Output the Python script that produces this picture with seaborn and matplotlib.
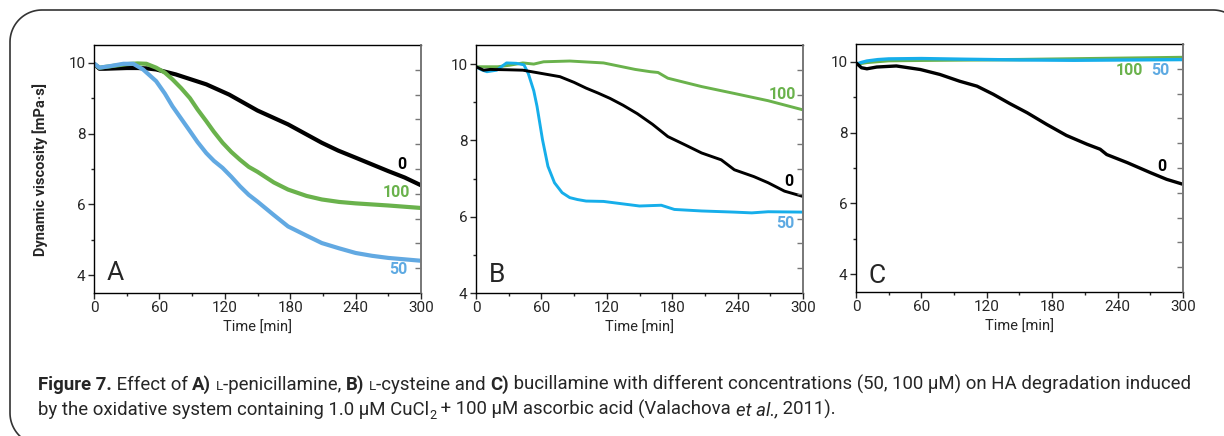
import numpy as np
import pandas as pd
import matplotlib
matplotlib.use('Agg')
import matplotlib.pyplot as plt
import matplotlib.font_manager as fm
from matplotlib.lines import Line2D
from matplotlib.ticker import MultipleLocator
import seaborn as sns

# ---- data (time in min, viscosity in mPa.s) ----
# A) L-penicillamine
a0_t = [0, 5, 10, 20, 30, 40, 48, 57, 75, 90, 103, 124, 150, 178, 209, 224, 240, 255, 270, 285, 300]
a0_v = [9.97, 9.83, 9.83, 9.84, 9.85, 9.85, 9.84, 9.81, 9.67, 9.52, 9.39, 9.10, 8.65, 8.26, 7.74, 7.52, 7.32, 7.13, 6.94, 6.76, 6.54]
a100_t = [0, 5, 10, 20, 30, 40, 48, 57, 65, 72, 80, 88, 95, 103, 110, 118, 126, 134, 142, 150, 165, 178, 195, 209, 225, 240, 270, 300]
a100_v = [9.97, 9.86, 9.88, 9.92, 9.96, 9.98, 9.97, 9.86, 9.72, 9.53, 9.28, 9.00, 8.68, 8.35, 8.05, 7.74, 7.48, 7.26, 7.06, 6.92, 6.62, 6.42, 6.24, 6.14, 6.07, 6.03, 5.97, 5.90]
a50_t = [0, 5, 14, 27, 36, 45, 57, 65, 72, 80, 88, 95, 103, 110, 118, 126, 134, 142, 150, 165, 178, 195, 209, 225, 240, 255, 270, 285, 300]
a50_v = [9.98, 9.86, 9.90, 9.97, 9.97, 9.81, 9.48, 9.13, 8.77, 8.42, 8.07, 7.76, 7.45, 7.23, 7.03, 6.78, 6.51, 6.27, 6.08, 5.70, 5.38, 5.12, 4.91, 4.76, 4.63, 4.55, 4.49, 4.45, 4.41]

# B) L-cysteine
b0_t = [0, 7, 13, 30, 43, 59, 77, 90, 101, 112, 123, 135, 148, 162, 176, 192, 207, 225, 237, 255, 268, 283, 300]
b0_v = [9.93, 9.84, 9.86, 9.85, 9.84, 9.76, 9.67, 9.52, 9.37, 9.24, 9.10, 8.92, 8.70, 8.42, 8.10, 7.88, 7.67, 7.49, 7.23, 7.05, 6.89, 6.67, 6.53]
b100_t = [0, 10, 20, 31, 43, 53, 62, 86, 117, 146, 160, 167, 176, 207, 237, 268, 300]
b100_v = [9.93, 9.93, 9.93, 9.97, 10.03, 10.00, 10.06, 10.08, 10.03, 9.86, 9.80, 9.78, 9.63, 9.41, 9.23, 9.04, 8.80]
b50_t = [0, 5, 10, 19, 28, 37, 44, 48, 53, 56, 61, 66, 72, 79, 86, 93, 101, 117, 150, 170, 182, 207, 237, 253, 268, 300]
b50_v = [9.93, 9.85, 9.80, 9.84, 10.03, 10.02, 9.98, 9.75, 9.30, 8.89, 8.02, 7.32, 6.89, 6.63, 6.50, 6.45, 6.41, 6.40, 6.28, 6.30, 6.19, 6.15, 6.12, 6.10, 6.13, 6.12]

# C) bucillamine
c0_t = [0, 5, 10, 19, 37, 59, 77, 95, 111, 126, 141, 157, 175, 193, 212, 224, 230, 249, 270, 285, 300]
c0_v = [9.97, 9.83, 9.80, 9.85, 9.88, 9.78, 9.64, 9.45, 9.31, 9.08, 8.82, 8.56, 8.23, 7.92, 7.67, 7.53, 7.38, 7.15, 6.87, 6.68, 6.54]
c100_t = [0, 10, 30, 60, 100, 150, 200, 250, 300]
c100_v = [9.93, 9.98, 10.03, 10.04, 10.05, 10.06, 10.08, 10.10, 10.12]
c50_t = [0, 5, 10, 20, 30, 60, 100, 150, 200, 250, 300]
c50_v = [9.93, 9.98, 10.02, 10.06, 10.08, 10.09, 10.07, 10.05, 10.04, 10.05, 10.06]

panel_letters = ['A', 'B', 'C']
series_labels = ['0', '100', '50']
x_ticks = [0, 60, 120, 180, 240, 300]

BLACK = '#000000'
GREEN = '#6ab24c'
BLUE_A = '#62a9e2'
BLUE_BC = '#16aeea'
LABEL_BLUE = '#5eaae2'

sns.set_style('ticks')


def pick_font(names):
    for n in names:
        try:
            fm.findfont(fm.FontProperties(family=n), fallback_to_default=False)
            return n
        except Exception:
            pass
    return 'DejaVu Sans'


main_font = pick_font(['Roboto', 'Noto Sans'])
cap_font = pick_font(['Liberation Sans Narrow', 'Roboto', 'Noto Sans'])
plt.rcParams['font.family'] = [main_font, 'DejaVu Sans']

fig = plt.figure(figsize=(12.24, 4.36), dpi=100)
W, H = 1224, 436

# axes boxes in pixels: left, top, right, bottom
boxes = [(94, 45, 421, 293), (476, 45, 803, 293), (856, 44, 1183, 292)]
ylims = [(3.5, 10.5), (4.0, 10.5), (3.5, 10.5)]

panels = [
    [(a0_t, a0_v, BLACK), (a100_t, a100_v, GREEN), (a50_t, a50_v, BLUE_A)],
    [(b0_t, b0_v, BLACK), (b100_t, b100_v, GREEN), (b50_t, b50_v, BLUE_BC)],
    [(c0_t, c0_v, BLACK), (c100_t, c100_v, GREEN), (c50_t, c50_v, BLUE_BC)],
]
lws = [3.0, 2.1, 2.4]
# label positions (time, value) for 0 / 100 / 50
lab_pos = [
    [(282, 7.13), (277, 6.33), (279, 4.16)],
    [(287, 6.92), (281, 9.21), (284, 5.83)],
    [(281, 7.04), (251, 9.76), (279.5, 9.76)],
]
lab_col = [BLACK, GREEN, LABEL_BLUE]
letter_pos = [(0.064, 0.08), (0.063, 0.073), (0.065, 0.065)]

for i, (l, t, r, b) in enumerate(boxes):
    ax = fig.add_axes([l / W, 1 - b / H, (r - l) / W, (b - t) / H])
    order = [1, 2, 0] if i > 0 else [0, 1, 2]
    for k in order:
        tt, vv, col = panels[i][k]
        df = pd.DataFrame({'t': tt, 'v': vv})
        sns.lineplot(data=df, x='t', y='v', ax=ax, color=col, lw=lws[i],
                     solid_capstyle='butt')
    ax.set_xlim(0, 300)
    ax.set_ylim(*ylims[i])
    ax.set_xticks(x_ticks)
    ax.xaxis.set_minor_locator(MultipleLocator(30))
    ax.set_yticks([4, 6, 8, 10])
    ax.yaxis.set_minor_locator(MultipleLocator(1))
    ax.tick_params(which='major', length=4, width=1, labelsize=11, pad=2,
                   direction='out')
    ax.tick_params(which='minor', length=2.5, width=1, direction='out')
    ax.set_xlabel('Time [min]', fontsize=10.5, labelpad=4)
    if i == 0:
        ax.set_ylabel('Dynamic viscosity [mPa·s]', fontsize=10.5,
                      fontweight='bold')
        ax.yaxis.set_label_coords(-0.14, 0.5)
    else:
        ax.set_ylabel('')
    for s in ['left', 'bottom', 'top']:
        ax.spines[s].set_linewidth(1.0)
        ax.spines[s].set_color('black')
    ax.spines['right'].set_color('#777777')
    ax.spines['right'].set_linewidth(1.2)

    # right-hand tick strip
    ax2 = ax.twinx()
    ax2.set_ylim(0, 1)
    ax2.set_yticks(np.arange(1, 10) / 10)
    ax2.set_yticklabels([])
    ax2.tick_params(axis='y', direction='in', length=4, width=1,
                    color='#777777')
    for s in ['left', 'bottom', 'top']:
        ax2.spines[s].set_visible(False)
    ax2.spines['right'].set_color('#777777')
    ax2.spines['right'].set_linewidth(1.2)

    for k in range(3):
        x, y = lab_pos[i][k]
        ax.text(x, y, series_labels[k], color=lab_col[k], fontsize=11.5,
                fontweight='bold', ha='center', va='center')
    ax.text(*letter_pos[i], panel_letters[i], transform=ax.transAxes,
            fontsize=19, ha='center', va='center')

# rounded outer frame in pixels; right and bottom sides fall off the page
R = 32
left, top, right, bottom = 10, 10, 1245, 445
ang = np.linspace(0, np.pi / 2, 30)
tl_x = left + R - R * np.cos(ang)
tl_y = top + R - R * np.sin(ang)
tr_x = right - R + R * np.sin(ang)
tr_y = top + R - R * np.cos(ang)
br_x = right - R + R * np.cos(ang)
br_y = bottom - R + R * np.sin(ang)
bl_x = left + R - R * np.sin(ang)
bl_y = bottom - R + R * np.cos(ang)
fx = np.concatenate([bl_x, tl_x, tr_x, br_x, bl_x[:1]])
fy = np.concatenate([bl_y, tl_y, tr_y, br_y, bl_y[:1]])
fig.add_artist(Line2D(fx / W, 1 - fy / H, transform=fig.transFigure,
                      color='#333333', lw=1.2, clip_on=False))

# caption, drawn piece by piece
line1 = [('Figure 7.', 'bold', 'normal', 1.0, 0),
         (' Effect of ', 'normal', 'normal', 1.0, 0),
         ('A)', 'bold', 'normal', 1.0, 0),
         (' ', 'normal', 'normal', 1.0, 0),
         ('L', 'normal', 'normal', 0.72, 0),
         ('-penicillamine, ', 'normal', 'normal', 1.0, 0),
         ('B)', 'bold', 'normal', 1.0, 0),
         (' ', 'normal', 'normal', 1.0, 0),
         ('L', 'normal', 'normal', 0.72, 0),
         ('-cysteine and ', 'normal', 'normal', 1.0, 0),
         ('C)', 'bold', 'normal', 1.0, 0),
         (' bucillamine with different concentrations (50, 100 µM) on HA degradation induced',
          'normal', 'normal', 1.0, 0)]
line2 = [('by the oxidative system containing 1.0 µM CuCl', 'normal', 'normal', 1.0, 0),
         ('2', 'normal', 'normal', 0.68, -4),
         (' + 100 µM ascorbic acid (Valachova ', 'normal', 'normal', 1.0, 0),
         ('et al.,', 'normal', 'italic', 1.0, 0),
         (' 2011).', 'normal', 'normal', 1.0, 0)]

renderer = fig.canvas.get_renderer()


def draw_line(pieces, x0, y0, fs):
    x = x0
    arts = []
    for s, wt, st, scale, dy in pieces:
        txt = fig.text(x / W, 1 - (y0 - dy) / H, s,
                       fontsize=fs * scale, fontweight=wt, fontstyle=st,
                       family=[cap_font, 'DejaVu Sans'], va='baseline',
                       ha='left')
        bb = txt.get_window_extent(renderer)
        x += bb.width
        arts.append(txt)
    return arts, x - x0


# fit the first caption line to the width it has in the original
arts, w = draw_line(line1, 38, 390, 12)
for a in arts:
    a.remove()
fs = 12 * 1152 / w
draw_line(line1, 38, 390, fs)
draw_line(line2, 38, 415, fs)

fig.savefig('out.png', dpi=100)
